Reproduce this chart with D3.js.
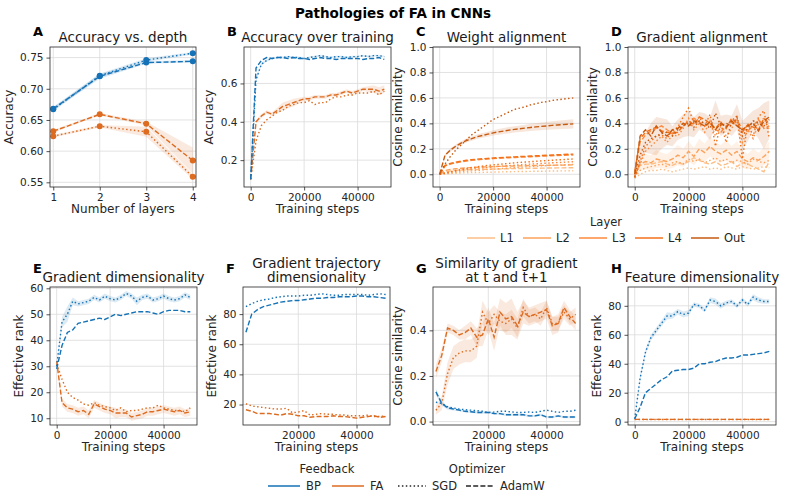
<!DOCTYPE html>
<html lang="en">
<head>
<meta charset="utf-8">
<title>Pathologies of FA in CNNs</title>
<script src="https://d3js.org/d3.v7.min.js"></script>
<style>
  body { margin: 0; background: #ffffff; }
  svg, svg text { font-family: "DejaVu Sans", sans-serif; }
  .grid line { stroke: #dadada; stroke-width: 0.8; }
  .axis line { stroke: #262626; stroke-width: 0.8; }
  .axis text { font-family: "DejaVu Sans", sans-serif; font-size: 10.5px; fill: #262626; }
  .frame { fill: none; stroke: #262626; stroke-width: 0.8; }
  .title { font-size: 13.5px; fill: #1a1a1a; }
  .letter { font-size: 13px; font-weight: bold; fill: #000; }
  .label { font-size: 12px; fill: #262626; }
  .legend text { font-size: 11.5px; fill: #262626; }
</style>
</head>
<body>
<div id="container"></div>
<script>
// ---------------- DATA ----------------
const steps = [0, 2000, 4000, 6000, 8000, 10000, 12000, 14000, 16000, 18000, 20000, 22000, 24000,
  26000, 28000, 30000, 32000, 34000, 36000, 38000, 40000, 42000, 44000, 46000, 48000, 50000];
const stepsLate = steps.slice(1);

// A: accuracy vs depth
const depthLayers = [1, 2, 3, 4];
const depthBpSgd = [0.667, 0.721, 0.746, 0.757];
const depthBpAdamw = [0.668, 0.720, 0.742, 0.744];
const depthFaSgd = [0.624, 0.640, 0.631, 0.559];
const depthFaAdamw = [0.632, 0.659, 0.644, 0.585];
const depthBpSgdErr = [0.003, 0.003, 0.003, 0.002];
const depthBpAdamwErr = [0.003, 0.004, 0.002, 0.002];
const depthFaSgdErr = [0.002, 0.002, 0.008, 0.004];
const depthFaAdamwErr = [0.002, 0.002, 0.003, 0.021];

// B: accuracy over training
const accBpSgd = [0.10, 0.62, 0.70, 0.72, 0.73, 0.735, 0.735, 0.74, 0.735, 0.735, 0.73, 0.735, 0.74, 0.745, 0.74,
  0.735, 0.74, 0.74, 0.735, 0.74, 0.74, 0.745, 0.74, 0.745, 0.745, 0.74];
const accBpAdamw = [0.10, 0.68, 0.72, 0.735, 0.73, 0.735, 0.735, 0.73, 0.735, 0.73, 0.73, 0.725, 0.73, 0.735, 0.73,
  0.73, 0.725, 0.73, 0.73, 0.73, 0.73, 0.725, 0.73, 0.73, 0.735, 0.725];
const accFaSgd = [0.10, 0.30, 0.38, 0.41, 0.43, 0.45, 0.46, 0.48, 0.49, 0.50, 0.50, 0.51, 0.49, 0.50, 0.50,
  0.52, 0.53, 0.53, 0.54, 0.54, 0.55, 0.55, 0.55, 0.56, 0.54, 0.56];
const accFaAdamw = [0.10, 0.40, 0.43, 0.45, 0.44, 0.46, 0.48, 0.49, 0.50, 0.51, 0.52, 0.52, 0.53, 0.53, 0.53,
  0.54, 0.54, 0.55, 0.56, 0.55, 0.56, 0.57, 0.57, 0.57, 0.56, 0.57];
const accFaAdamwErr = [0, 0.01, 0.01, 0.01, 0.01, 0.015, 0.02, 0.02, 0.02, 0.015, 0.01, 0.01, 0.01, 0.01, 0.01,
  0.01, 0.01, 0.01, 0.01, 0.01, 0.01, 0.01, 0.015, 0.02, 0.02, 0.02];
const accBpSgdErr = [0, 0.01, 0.008, 0.006, 0.005, 0.005, 0.005, 0.005, 0.005, 0.005, 0.005, 0.005, 0.005, 0.005, 0.005,
  0.005, 0.005, 0.005, 0.005, 0.005, 0.005, 0.005, 0.005, 0.005, 0.005, 0.005];

// C: weight alignment (FA only), per layer
const layerNames = ["L1", "L2", "L3", "L4", "Out"];
const layerColors = ["#fdbe85", "#fda25a", "#fd8a3c", "#f2711a", "#c65a10"];
const wAlignSgd = [
  [0, 0.003, 0.006, 0.008, 0.010, 0.012, 0.013, 0.014, 0.015, 0.016, 0.017, 0.018, 0.019, 0.020, 0.021,
    0.022, 0.022, 0.023, 0.024, 0.024, 0.025, 0.026, 0.026, 0.027, 0.027, 0.028],
  [0, 0.005, 0.010, 0.015, 0.019, 0.023, 0.027, 0.030, 0.034, 0.037, 0.040, 0.043, 0.046, 0.049, 0.052,
    0.055, 0.058, 0.061, 0.063, 0.066, 0.068, 0.070, 0.072, 0.074, 0.076, 0.078],
  [0, 0.008, 0.016, 0.024, 0.030, 0.036, 0.041, 0.046, 0.050, 0.054, 0.058, 0.062, 0.065, 0.068, 0.071,
    0.074, 0.077, 0.080, 0.082, 0.085, 0.087, 0.090, 0.092, 0.094, 0.097, 0.099],
  [0, 0.010, 0.020, 0.030, 0.038, 0.045, 0.052, 0.058, 0.064, 0.069, 0.074, 0.078, 0.082, 0.086, 0.090,
    0.093, 0.096, 0.099, 0.102, 0.105, 0.108, 0.110, 0.113, 0.115, 0.118, 0.120],
  [0, 0.08, 0.14, 0.19, 0.23, 0.27, 0.31, 0.34, 0.37, 0.40, 0.43, 0.45, 0.47, 0.49, 0.51,
    0.52, 0.53, 0.545, 0.555, 0.565, 0.57, 0.58, 0.585, 0.59, 0.595, 0.60]
];
const wAlignAdamw = [
  [0, 0.020, 0.026, 0.030, 0.033, 0.035, 0.037, 0.038, 0.039, 0.040, 0.041, 0.042, 0.043, 0.044, 0.045,
    0.045, 0.046, 0.047, 0.047, 0.048, 0.049, 0.049, 0.050, 0.050, 0.051, 0.051],
  [0, 0.03, 0.038, 0.043, 0.047, 0.050, 0.053, 0.055, 0.057, 0.059, 0.060, 0.062, 0.063, 0.064, 0.065,
    0.066, 0.067, 0.068, 0.069, 0.070, 0.070, 0.071, 0.072, 0.072, 0.073, 0.074],
  [0, 0.065, 0.08, 0.09, 0.098, 0.104, 0.109, 0.113, 0.117, 0.12, 0.123, 0.126, 0.128, 0.13, 0.132,
    0.134, 0.136, 0.138, 0.14, 0.142, 0.144, 0.146, 0.148, 0.149, 0.151, 0.152],
  [0, 0.07, 0.085, 0.095, 0.103, 0.11, 0.115, 0.119, 0.122, 0.125, 0.128, 0.131, 0.133, 0.135, 0.137,
    0.139, 0.141, 0.143, 0.145, 0.147, 0.149, 0.151, 0.153, 0.155, 0.157, 0.158],
  [0, 0.15, 0.19, 0.22, 0.245, 0.265, 0.28, 0.295, 0.305, 0.315, 0.325, 0.333, 0.34, 0.347, 0.353,
    0.358, 0.363, 0.368, 0.372, 0.376, 0.38, 0.384, 0.387, 0.39, 0.393, 0.396]
];
const wAlignOutAdamwErr = [0, 0.01, 0.012, 0.014, 0.015, 0.016, 0.017, 0.018, 0.019, 0.02, 0.021, 0.022, 0.023, 0.024, 0.025,
  0.026, 0.027, 0.028, 0.029, 0.03, 0.031, 0.032, 0.033, 0.034, 0.035, 0.036];

// D: gradient alignment (FA only), per layer
const gAlignSgd = [
  [-0.03, 0.00, 0.02, 0.03, 0.03, 0.04, 0.03, 0.02, 0.03, 0.04, 0.05, 0.04, 0.05, 0.06, 0.04,
    0.05, 0.04, 0.06, 0.05, 0.04, 0.06, 0.05, 0.04, 0.05, 0.06, 0.05],
  [-0.02, 0.03, 0.05, 0.06, 0.07, 0.08, 0.06, 0.09, 0.10, 0.08, 0.12, 0.10, 0.12, 0.09, 0.11,
    0.13, 0.10, 0.12, 0.09, 0.11, 0.10, 0.08, 0.12, 0.10, 0.09, 0.11],
  [-0.02, 0.08, 0.18, 0.22, 0.26, 0.30, 0.25, 0.31, 0.30, 0.36, 0.44, 0.35, 0.40, 0.33, 0.42,
    0.30, 0.38, 0.30, 0.36, 0.44, 0.25, 0.35, 0.28, 0.40, 0.44, 0.35],
  [-0.03, 0.10, 0.22, 0.26, 0.30, 0.31, 0.28, 0.34, 0.37, 0.45, 0.52, 0.40, 0.45, 0.38, 0.47,
    0.22, 0.40, 0.25, 0.42, 0.46, 0.12, 0.40, 0.30, 0.45, 0.50, 0.28],
  [-0.02, 0.15, 0.25, 0.28, 0.30, 0.32, 0.33, 0.30, 0.35, 0.38, 0.40, 0.37, 0.42, 0.40, 0.36,
    0.48, 0.38, 0.40, 0.38, 0.45, 0.30, 0.36, 0.42, 0.40, 0.38, 0.43]
];
const gAlignAdamw = [
  [0.0, 0.07, 0.08, 0.08, 0.09, 0.10, 0.08, 0.07, 0.09, 0.08, 0.10, 0.13, 0.11, 0.09, 0.08,
    0.10, 0.07, 0.08, 0.10, 0.06, 0.09, 0.08, 0.06, 0.04, 0.02, 0.10],
  [0.0, 0.08, 0.10, 0.09, 0.12, 0.11, 0.10, 0.12, 0.15, 0.13, 0.18, 0.14, 0.20, 0.17, 0.22,
    0.18, 0.16, 0.19, 0.15, 0.18, 0.12, 0.10, 0.13, 0.11, 0.14, 0.18],
  [0.0, 0.25, 0.31, 0.34, 0.36, 0.38, 0.35, 0.32, 0.36, 0.40, 0.38, 0.44, 0.41, 0.38, 0.40,
    0.35, 0.33, 0.38, 0.40, 0.42, 0.36, 0.34, 0.38, 0.43, 0.36, 0.38],
  [0.02, 0.28, 0.33, 0.35, 0.37, 0.34, 0.33, 0.32, 0.33, 0.38, 0.42, 0.39, 0.45, 0.43, 0.40,
    0.36, 0.41, 0.36, 0.44, 0.40, 0.33, 0.39, 0.37, 0.35, 0.44, 0.40],
  [0.0, 0.30, 0.35, 0.30, 0.38, 0.33, 0.30, 0.35, 0.36, 0.40, 0.38, 0.42, 0.40, 0.38, 0.41,
    0.35, 0.40, 0.37, 0.42, 0.38, 0.35, 0.38, 0.40, 0.34, 0.42, 0.45]
];
const gAlignOutSgdErr = [0.02, 0.06, 0.08, 0.12, 0.15, 0.12, 0.10, 0.08, 0.08, 0.09, 0.10, 0.08, 0.07, 0.08, 0.09,
  0.10, 0.08, 0.07, 0.08, 0.10, 0.12, 0.10, 0.08, 0.12, 0.18, 0.15];
const gAlignL2AdamwErr = [0.02, 0.05, 0.06, 0.06, 0.07, 0.06, 0.06, 0.07, 0.08, 0.07, 0.08, 0.07, 0.08, 0.07, 0.08,
  0.07, 0.07, 0.08, 0.07, 0.08, 0.07, 0.06, 0.07, 0.06, 0.07, 0.08];

// E: gradient dimensionality
const gradDimBpSgd = [30, 47, 50, 55, 54, 54.5, 55, 56.5, 55.5, 57, 56, 55.5, 56.5, 58, 57,
  55, 56.5, 57, 55.5, 56, 57, 56, 55.5, 56, 57.5, 56.5];
const gradDimBpAdamw = [29, 38, 43, 44, 46.5, 47, 47.5, 48, 48.5, 48, 49, 50, 49.5, 50, 50.5,
  51, 51, 51, 50.5, 50, 51, 51.5, 51.5, 51.5, 51, 51];
const gradDimFaSgd = [31, 25, 20, 18, 17, 15.5, 15, 16, 15, 14.5, 14, 13, 14, 12.5, 13,
  13, 13.5, 14, 14, 15, 14, 13.5, 13, 13, 12.5, 14];
const gradDimFaAdamw = [32, 16, 14, 13.5, 12.5, 13, 11.5, 15.5, 14.5, 13.5, 13, 12, 12, 12, 10.5,
  11, 11.5, 12.5, 12.5, 13, 13.5, 13, 12.5, 13, 12, 12.5];
const gradDimBpSgdErr = [1, 2, 3, 1.5, 1, 1, 1, 1, 1, 1, 1, 1, 1, 1, 1, 1.5, 1, 1, 1, 1, 1, 1, 1, 1, 1, 1];
const gradDimFaAdamwErr = [1, 1.5, 1.5, 1.5, 1.5, 1.5, 1.5, 1.5, 1.5, 1.5, 1.5, 2, 1.5, 1.5, 1.5,
  1.5, 1.5, 1.5, 1.5, 1.5, 1.5, 1.5, 1.5, 1.5, 1.5, 1.5];

// F: gradient trajectory dimensionality
const trajDimBpSgd = [85, 87, 88.5, 89.5, 90, 91, 91.5, 92, 92, 92, 92.5, 92.5, 93, 93.5,
  93, 92.5, 92.5, 93, 93, 93, 93, 92.5, 93, 93.5, 93];
const trajDimBpAdamw = [68, 80, 83, 85, 86, 87, 88, 88.5, 89, 89, 89.5, 90, 90.5, 90.5,
  91, 91, 91.5, 91.5, 91.5, 92, 92, 91.5, 91.5, 91, 90.5];
const trajDimFaSgd = [20.5, 19, 18.5, 18, 17.5, 17, 17, 17.5, 14.5, 15, 16, 13, 13.5, 14,
  13.5, 13.5, 13, 13, 12.5, 12.5, 12.5, 13, 12, 12, 12.5];
const trajDimFaAdamw = [16.5, 15.5, 14, 14, 14, 13.5, 13, 14, 13.5, 12.5, 12.5, 11.5, 12, 12,
  12, 12.5, 12, 12, 11.5, 11, 11.5, 12, 12.5, 11.5, 12];

// G: similarity of gradient at t and t+1
const gradSimBpSgd = [0.085, 0.08, 0.065, 0.06, 0.055, 0.052, 0.05, 0.048, 0.045, 0.04, 0.042, 0.045, 0.045,
  0.042, 0.04, 0.04, 0.042, 0.04, 0.045, 0.05, 0.045, 0.04, 0.045, 0.045, 0.05];
const gradSimBpAdamw = [0.13, 0.08, 0.06, 0.055, 0.05, 0.045, 0.043, 0.04, 0.04, 0.04, 0.035, 0.035, 0.03,
  0.03, 0.03, 0.03, 0.025, 0.025, 0.03, 0.02, 0.02, 0.025, 0.02, 0.02, 0.02];
const gradSimFaSgd = [0.05, 0.08, 0.21, 0.28, 0.30, 0.31, 0.31, 0.33, 0.48, 0.43, 0.47, 0.44, 0.43,
  0.45, 0.41, 0.50, 0.46, 0.47, 0.45, 0.50, 0.43, 0.43, 0.48, 0.45, 0.47];
const gradSimFaAdamw = [0.22, 0.29, 0.41, 0.40, 0.38, 0.39, 0.41, 0.37, 0.38, 0.45, 0.37, 0.48, 0.45,
  0.46, 0.42, 0.48, 0.46, 0.47, 0.48, 0.49, 0.42, 0.43, 0.50, 0.46, 0.43];
const gradSimFaSgdErr = [0.02, 0.03, 0.05, 0.05, 0.05, 0.05, 0.05, 0.05, 0.05, 0.05, 0.04, 0.04, 0.04,
  0.04, 0.04, 0.04, 0.03, 0.03, 0.03, 0.03, 0.03, 0.03, 0.03, 0.03, 0.03];
const gradSimFaAdamwErr = [0.03, 0.03, 0.02, 0.02, 0.02, 0.03, 0.03, 0.04, 0.05, 0.05, 0.06, 0.06, 0.07,
  0.08, 0.06, 0.05, 0.04, 0.04, 0.04, 0.04, 0.04, 0.04, 0.03, 0.03, 0.03];
const gradSimBpAdamwErr = [0.015, 0.01, 0.008, 0.006, 0.005, 0.005, 0.005, 0.005, 0.005, 0.005, 0.005, 0.005, 0.005,
  0.005, 0.005, 0.005, 0.005, 0.005, 0.005, 0.005, 0.005, 0.005, 0.005, 0.005, 0.005];

// H: feature dimensionality
const featDimBpSgd = [2, 30, 48, 58, 63, 68, 73, 73, 76, 74, 75, 81, 80, 77, 84,
  83, 80, 82, 83, 80, 84, 81, 86, 84, 83, 83];
const featDimBpAdamw = [2, 10, 20, 23, 26, 29, 31, 35, 35.5, 36, 36, 37, 40, 40, 41,
  41.5, 43, 44, 44, 44.5, 46, 46, 46.5, 47, 47.5, 48.5];
const featDimFaSgd = [1.5, 1.5, 1.5, 1.5, 1.5, 1.5, 1.5, 1.5, 1.5, 1.5, 1.5, 1.5, 1.5, 1.5, 1.5,
  1.5, 1.5, 1.5, 1.5, 1.5, 1.5, 1.5, 1.5, 1.5, 1.5, 1.5];
const featDimFaAdamw = [1.6, 1.6, 1.6, 1.6, 1.6, 1.6, 1.6, 1.6, 1.6, 1.6, 1.6, 1.6, 1.6, 1.6, 1.6,
  1.6, 1.6, 1.6, 1.6, 1.6, 1.6, 1.6, 1.6, 1.6, 1.6, 1.6];
const featDimBpSgdErr = [0.5, 2, 2, 2, 2, 2, 2.5, 2, 2, 2, 2, 1.5, 1.5, 1.5, 2,
  2, 2, 1.5, 1.5, 1.5, 1.5, 1.5, 2, 2, 1.5, 1.5];

const bpColor = "#1572b6";
const faColor = "#dd6b20";
const dotted = "1.5,2.4";
const dashed = "5,2.2";

// ---------------- CANVAS ----------------
const svg = d3.select("#container").append("svg")
  .attr("width", 786).attr("height", 498)
  .attr("viewBox", "0 0 786 498");

svg.append("text")
  .attr("x", 393).attr("y", 18)
  .attr("text-anchor", "middle")
  .style("font-size", "13.5px").style("font-weight", "bold")
  .text("Pathologies of FA in CNNs");

const fmtSteps = d3.format("d");

function drawPanel(cfg) {
  const w = cfg.right - cfg.left, h = cfg.bottom - cfg.top;
  const g = svg.append("g").attr("transform", "translate(" + cfg.left + "," + cfg.top + ")");
  const x = d3.scaleLinear().domain(cfg.xDomain).range([0, w]);
  const y = d3.scaleLinear().domain(cfg.yDomain).range([h, 0]);

  // grid
  const grid = g.append("g").attr("class", "grid");
  grid.selectAll("line.vx").data(cfg.xTicks).join("line")
    .attr("x1", d => x(d)).attr("x2", d => x(d)).attr("y1", 0).attr("y2", h);
  grid.selectAll("line.hy").data(cfg.yTicks).join("line")
    .attr("class", "hy")
    .attr("y1", d => y(d)).attr("y2", d => y(d)).attr("x1", 0).attr("x2", w);

  const clipId = "clip-" + cfg.id;
  g.append("clipPath").attr("id", clipId)
    .append("rect").attr("width", w).attr("height", h);
  const plot = g.append("g").attr("clip-path", "url(#" + clipId + ")");

  // bands
  cfg.series.filter(s => s.err).forEach(s => {
    const pts = s.x.map((xv, i) => [xv, s.y[i], s.err[i]]);
    plot.append("path")
      .attr("d", d3.area().x(d => x(d[0])).y0(d => y(d[1] - d[2])).y1(d => y(d[1] + d[2]))(pts))
      .attr("fill", s.color).attr("opacity", 0.15);
  });
  // lines
  cfg.series.forEach(s => {
    const pts = s.x.map((xv, i) => [xv, s.y[i]]);
    plot.append("path")
      .attr("d", d3.line().x(d => x(d[0])).y(d => y(d[1]))(pts))
      .attr("fill", "none")
      .attr("stroke", s.color)
      .attr("stroke-width", 1.4)
      .attr("stroke-dasharray", s.dash);
    if (cfg.markers) {
      g.selectAll(null).data(pts).join("circle")
        .attr("cx", d => x(d[0])).attr("cy", d => y(d[1]))
        .attr("r", 3).attr("fill", s.color);
    }
  });

  // axes
  const xa = g.append("g").attr("class", "axis")
    .attr("transform", "translate(0," + h + ")")
    .call(d3.axisBottom(x).tickValues(cfg.xTicks).tickFormat(cfg.xFormat).tickSize(3.5).tickPadding(3));
  xa.select(".domain").remove();
  const ya = g.append("g").attr("class", "axis")
    .call(d3.axisLeft(y).tickValues(cfg.yTicks).tickFormat(cfg.yFormat).tickSize(3.5).tickPadding(3));
  ya.select(".domain").remove();

  g.append("rect").attr("class", "frame").attr("width", w).attr("height", h);

  // y label placed left of the widest tick label
  let maxW = 0;
  ya.selectAll("text").each(function () { maxW = Math.max(maxW, this.getBBox().width); });
  g.append("text").attr("class", "label")
    .attr("transform", "translate(" + (-7 - maxW - 6.5) + "," + (h / 2) + ") rotate(-90)")
    .attr("text-anchor", "middle")
    .text(cfg.yLabel);
  g.append("text").attr("class", "label")
    .attr("x", w / 2).attr("y", h + 26)
    .attr("text-anchor", "middle")
    .text(cfg.xLabel);

  // title
  cfg.title.forEach((t, i) => {
    g.append("text").attr("class", "title")
      .attr("x", w / 2).attr("y", -5 - (cfg.title.length - 1 - i) * 14.5)
      .attr("text-anchor", "middle")
      .text(t);
  });
  g.append("text").attr("class", "letter")
    .attr("x", -17).attr("y", cfg.letterY)
    .text(cfg.letter);
}

function layerSeries(xs, sgd, adamw) {
  const out = [];
  layerNames.forEach((n, i) => {
    out.push({ x: xs, y: adamw[i], color: layerColors[i], dash: dashed });
    out.push({ x: xs, y: sgd[i], color: layerColors[i], dash: dotted });
  });
  return out;
}

const topRow = { top: 47, bottom: 187, letterY: -11 };
const botRow = { top: 287, bottom: 425, letterY: -14 };
const stepDomain = [-2500, 52500];
const lateDomain = [1000, 51500];

drawPanel(Object.assign({}, topRow, {
  id: "A", letter: "A", left: 50, right: 196,
  title: ["Accuracy vs. depth"], xLabel: "Number of layers", yLabel: "Accuracy",
  xDomain: [0.93, 4.07], yDomain: [0.5425, 0.767],
  xTicks: depthLayers, yTicks: [0.55, 0.60, 0.65, 0.70, 0.75],
  xFormat: d3.format("d"), yFormat: d3.format(".2f"), markers: true,
  series: [
    { x: depthLayers, y: depthFaSgd, err: depthFaSgdErr, color: faColor, dash: dotted },
    { x: depthLayers, y: depthFaAdamw, err: depthFaAdamwErr, color: faColor, dash: dashed },
    { x: depthLayers, y: depthBpSgd, err: depthBpSgdErr, color: bpColor, dash: dotted },
    { x: depthLayers, y: depthBpAdamw, err: depthBpAdamwErr, color: bpColor, dash: dashed }
  ]
}));

drawPanel(Object.assign({}, topRow, {
  id: "B", letter: "B", left: 244, right: 391,
  title: ["Accuracy over training"], xLabel: "Training steps", yLabel: "Accuracy",
  xDomain: stepDomain, yDomain: [0.06, 0.79],
  xTicks: [0, 20000, 40000], yTicks: [0.2, 0.4, 0.6],
  xFormat: fmtSteps, yFormat: d3.format(".1f"),
  series: [
    { x: steps, y: accFaSgd, color: faColor, dash: dotted },
    { x: steps, y: accFaAdamw, err: accFaAdamwErr, color: faColor, dash: dashed },
    { x: steps, y: accBpSgd, err: accBpSgdErr, color: bpColor, dash: dotted },
    { x: steps, y: accBpAdamw, color: bpColor, dash: dashed }
  ]
}));

const cSeries = layerSeries(steps, wAlignSgd, wAlignAdamw);
cSeries[8].err = wAlignOutAdamwErr;
drawPanel(Object.assign({}, topRow, {
  id: "C", letter: "C", left: 433, right: 580,
  title: ["Weight alignment"], xLabel: "Training steps", yLabel: "Cosine similarity",
  xDomain: stepDomain, yDomain: [-0.1, 1.0],
  xTicks: [0, 20000, 40000], yTicks: [0, 0.2, 0.4, 0.6, 0.8, 1.0],
  xFormat: fmtSteps, yFormat: d3.format(".1f"),
  series: cSeries
}));

const dSeries = layerSeries(steps, gAlignSgd, gAlignAdamw);
dSeries[9].err = gAlignOutSgdErr;
dSeries[2].err = gAlignL2AdamwErr;
drawPanel(Object.assign({}, topRow, {
  id: "D", letter: "D", left: 628, right: 776,
  title: ["Gradient alignment"], xLabel: "Training steps", yLabel: "Cosine similarity",
  xDomain: stepDomain, yDomain: [-0.1, 1.0],
  xTicks: [0, 20000, 40000], yTicks: [0, 0.2, 0.4, 0.6, 0.8, 1.0],
  xFormat: fmtSteps, yFormat: d3.format(".1f"),
  series: dSeries
}));

drawPanel(Object.assign({}, botRow, {
  id: "E", letter: "E", left: 50, right: 197,
  title: ["Gradient dimensionality"], xLabel: "Training steps", yLabel: "Effective rank",
  xDomain: stepDomain, yDomain: [7.4, 60.5],
  xTicks: [0, 20000, 40000], yTicks: [10, 20, 30, 40, 50, 60],
  xFormat: fmtSteps, yFormat: d3.format("d"),
  series: [
    { x: steps, y: gradDimFaSgd, color: faColor, dash: dotted },
    { x: steps, y: gradDimFaAdamw, err: gradDimFaAdamwErr, color: faColor, dash: dashed },
    { x: steps, y: gradDimBpSgd, err: gradDimBpSgdErr, color: bpColor, dash: dotted },
    { x: steps, y: gradDimBpAdamw, color: bpColor, dash: dashed }
  ]
}));

drawPanel(Object.assign({}, botRow, {
  id: "F", letter: "F", left: 243, right: 390,
  title: ["Gradient trajectory", "dimensionality"], xLabel: "Training steps", yLabel: "Effective rank",
  xDomain: lateDomain, yDomain: [6.4, 98],
  xTicks: [20000, 40000], yTicks: [20, 40, 60, 80],
  xFormat: fmtSteps, yFormat: d3.format("d"),
  series: [
    { x: stepsLate, y: trajDimFaSgd, color: faColor, dash: dotted },
    { x: stepsLate, y: trajDimFaAdamw, color: faColor, dash: dashed },
    { x: stepsLate, y: trajDimBpSgd, color: bpColor, dash: dotted },
    { x: stepsLate, y: trajDimBpAdamw, color: bpColor, dash: dashed }
  ]
}));

drawPanel(Object.assign({}, botRow, {
  id: "G", letter: "G", left: 433, right: 580,
  title: ["Similarity of gradient", "at t and t+1"], xLabel: "Training steps", yLabel: "Cosine similarity",
  xDomain: lateDomain, yDomain: [-0.015, 0.59],
  xTicks: [20000, 40000], yTicks: [0, 0.2, 0.4],
  xFormat: fmtSteps, yFormat: d3.format(".1f"),
  series: [
    { x: stepsLate, y: gradSimFaSgd, err: gradSimFaSgdErr, color: faColor, dash: dotted },
    { x: stepsLate, y: gradSimFaAdamw, err: gradSimFaAdamwErr, color: faColor, dash: dashed },
    { x: stepsLate, y: gradSimBpSgd, color: bpColor, dash: dotted },
    { x: stepsLate, y: gradSimBpAdamw, err: gradSimBpAdamwErr, color: bpColor, dash: dashed }
  ]
}));

drawPanel(Object.assign({}, botRow, {
  id: "H", letter: "H", left: 628, right: 776,
  title: ["Feature dimensionality"], xLabel: "Training steps", yLabel: "Effective rank",
  xDomain: stepDomain, yDomain: [-2.3, 93],
  xTicks: [0, 20000, 40000], yTicks: [0, 20, 40, 60, 80],
  xFormat: fmtSteps, yFormat: d3.format("d"),
  series: [
    { x: steps, y: featDimFaSgd, color: faColor, dash: dotted },
    { x: steps, y: featDimFaAdamw, color: faColor, dash: dashed },
    { x: steps, y: featDimBpSgd, err: featDimBpSgdErr, color: bpColor, dash: dotted },
    { x: steps, y: featDimBpAdamw, color: bpColor, dash: dashed }
  ]
}));

// ---------------- LEGENDS ----------------
const layerLegend = svg.append("g").attr("class", "legend");
layerLegend.append("text").attr("x", 606).attr("y", 226).attr("text-anchor", "middle").text("Layer");
layerNames.forEach((n, i) => {
  const x0 = 467 + i * 56;
  layerLegend.append("line").attr("x1", x0).attr("x2", x0 + 28).attr("y1", 238).attr("y2", 238)
    .attr("stroke", layerColors[i]).attr("stroke-width", 1.5);
  layerLegend.append("text").attr("x", x0 + 33).attr("y", 242).text(n);
});

const feedbackNames = ["BP", "FA"];
const feedbackColors = [bpColor, faColor];
const optimizerNames = ["SGD", "AdamW"];
const optimizerDashes = [dotted, dashed];
const bottomLegend = svg.append("g").attr("class", "legend");
bottomLegend.append("text").attr("x", 327).attr("y", 473).attr("text-anchor", "middle").text("Feedback");
bottomLegend.append("text").attr("x", 477).attr("y", 473).attr("text-anchor", "middle").text("Optimizer");
feedbackNames.forEach((n, i) => {
  const x0 = 268 + i * 64;
  bottomLegend.append("line").attr("x1", x0).attr("x2", x0 + 32).attr("y1", 486).attr("y2", 486)
    .attr("stroke", feedbackColors[i]).attr("stroke-width", 1.5);
  bottomLegend.append("text").attr("x", x0 + 38).attr("y", 490).text(n);
});
optimizerNames.forEach((n, i) => {
  const x0 = 398 + i * 68;
  bottomLegend.append("line").attr("x1", x0).attr("x2", x0 + 28).attr("y1", 486).attr("y2", 486)
    .attr("stroke", "#262626").attr("stroke-width", 1.5).attr("stroke-dasharray", optimizerDashes[i]);
  bottomLegend.append("text").attr("x", x0 + 34).attr("y", 490).text(n);
});
</script>
</body>
</html>
